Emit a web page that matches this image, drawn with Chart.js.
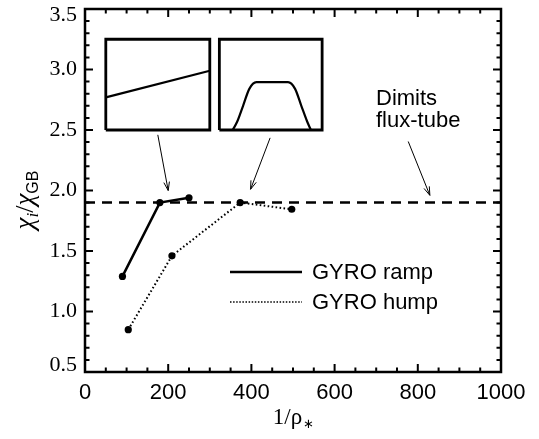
<!DOCTYPE html>
<html>
<head>
<meta charset="utf-8">
<script src="https://cdn.jsdelivr.net/npm/chart.js@4.4.1/dist/chart.umd.min.js"></script>
<style>
  html, body { margin: 0; padding: 0; background: #fff; }
  #wrap { width: 539px; height: 439px; }
</style>
</head>
<body>
<div id="wrap"><canvas id="chi"></canvas></div>
<script>
// values
const rampX = [90, 180, 250];
const rampY = [1.29, 1.90, 1.94];
const humpX = [104, 209, 373, 497];
const humpY = [0.85, 1.46, 1.90, 1.845];
const dimitsX = [0, 1000];
const dimitsY = [1.9, 1.9];

const xTicks = [0, 200, 400, 600, 800, 1000];
const yTicks = [0.5, 1.0, 1.5, 2.0, 2.5, 3.0, 3.5];
const yTickLabels = ['0.5', '1.0', '1.5', '2.0', '2.5', '3.0', '3.5'];

// the two little profile sketches (inset boxes), in plot units
const box1X = [50, 300, 300, 50, 50];
const box1Y = [2.5, 2.5, 3.25, 3.25, 2.5];
const box2X = [323, 570, 570, 323, 323];
const box2Y = [2.5, 2.5, 3.25, 3.25, 2.5];
const rampSketchX = [50, 300];
const rampSketchY = [2.77, 2.99];
const humpSketchX = [355, 366, 380, 395, 412, 488, 505, 520, 534, 543];
const humpSketchY = [2.5, 2.57, 2.70, 2.84, 2.895, 2.895, 2.84, 2.70, 2.57, 2.5];

// annotation arrows [from, to]
const arrow1X = [175, 200], arrow1Y = [2.46, 2.0];
const arrow2X = [445, 398], arrow2Y = [2.435, 2.01];
const arrow3X = [777, 829], arrow3Y = [2.405, 1.96];

const pts = (xs, ys) => xs.map((x, i) => ({ x: x, y: ys[i] }));
const SERIF = '"Liberation Serif", "Times New Roman", serif';
const SANS = '"Liberation Sans", Arial, sans-serif';

function plain(xs, ys, extra) {
    return Object.assign({
        data: pts(xs, ys),
        showLine: true,
        borderColor: '#000',
        borderWidth: 2.5,
        pointRadius: 0,
        fill: false
    }, extra || {});
}

const frame = {
    id: 'frame',
    afterDraw(chart) {
        const ctx = chart.ctx;
        const a = chart.chartArea;
        const xs = chart.scales.x, ys = chart.scales.y;
        ctx.save();
        ctx.strokeStyle = '#000';
        ctx.fillStyle = '#000';

        // ticks pointing inward on all four sides
        ctx.lineWidth = 2;
        ctx.beginPath();
        for (let v = 0; v <= 1000; v += 50) {
            const px = xs.getPixelForValue(v);
            const len = (v % 200 === 0) ? 8 : 4.5;
            ctx.moveTo(px, a.bottom); ctx.lineTo(px, a.bottom - len);
            ctx.moveTo(px, a.top); ctx.lineTo(px, a.top + len);
        }
        for (let k = 5; k <= 35; k++) {
            const py = ys.getPixelForValue(k / 10);
            const len = (k % 5 === 0) ? 8 : 4.5;
            ctx.moveTo(a.left, py); ctx.lineTo(a.left + len, py);
            ctx.moveTo(a.right, py); ctx.lineTo(a.right - len, py);
        }
        ctx.stroke();

        ctx.lineWidth = 2.5;
        ctx.strokeRect(a.left, a.top, a.right - a.left, a.bottom - a.top);

        // tick labels
        ctx.font = '22px ' + SANS;
        ctx.textAlign = 'center';
        ctx.textBaseline = 'middle';
        xTicks.forEach(v => ctx.fillText(String(v), xs.getPixelForValue(v), 393));

        ctx.font = '22px ' + SERIF;
        ctx.textAlign = 'right';
        yTicks.forEach((v, i) => {
            let py = ys.getPixelForValue(v);
            py = Math.min(Math.max(py, a.top + 6), a.bottom - 7);
            ctx.fillText(yTickLabels[i], 77, py);
        });

        // x title 1/ρ*
        ctx.textAlign = 'left';
        ctx.textBaseline = 'alphabetic';
        const main = '1/\u03c1';
        ctx.font = '23px ' + SERIF;
        const wMain = ctx.measureText(main).width;
        ctx.font = '13px ' + SERIF;
        const wStar = ctx.measureText('\u2217').width;
        let x0 = xs.getPixelForValue(500) - (wMain + wStar) / 2;
        ctx.font = '23px ' + SERIF;
        ctx.fillText(main, x0, 424);
        ctx.font = '13px ' + SERIF;
        ctx.fillText('\u2217', x0 + wMain + 1, 428);

        // y title χi/χGB, rotated
        const parts = [
            { t: '\u03c7', f: 'italic 27px ' + SERIF, dy: 0 },
            { t: 'i', f: 'italic 17px ' + SERIF, dy: 5 },
            { t: '/', f: '26px ' + SERIF, dy: 0 },
            { t: '\u03c7', f: 'italic 27px ' + SERIF, dy: 0 },
            { t: 'GB', f: '16px ' + SANS, dy: 5 }
        ];
        let total = 0;
        parts.forEach(p => { ctx.font = p.f; p.w = ctx.measureText(p.t).width; total += p.w; });
        ctx.translate(33, 200);
        ctx.rotate(-Math.PI / 2);
        let cx = -total / 2;
        parts.forEach(p => { ctx.font = p.f; ctx.fillText(p.t, cx, p.dy); cx += p.w; });
        ctx.restore();
    },
    afterDatasetsDraw(chart) {
        const ctx = chart.ctx;
        ctx.save();
        ctx.strokeStyle = '#000';
        ctx.lineWidth = 1;
        // open arrowheads at the end of each arrow dataset
        chart.data.datasets.forEach((ds, i) => {
            if (!ds.arrow) return;
            const el = chart.getDatasetMeta(i).data;
            const p0 = el[0], p1 = el[1];
            const ang = Math.atan2(p1.y - p0.y, p1.x - p0.x);
            const L = 9, h = 0.32;
            ctx.beginPath();
            ctx.moveTo(p1.x - L * Math.cos(ang - h), p1.y - L * Math.sin(ang - h));
            ctx.lineTo(p1.x, p1.y);
            ctx.lineTo(p1.x - L * Math.cos(ang + h), p1.y - L * Math.sin(ang + h));
            ctx.stroke();
        });

        // legend
        const ramp = chart.data.datasets[1];
        ctx.lineWidth = ramp.borderWidth;
        ctx.beginPath(); ctx.moveTo(230, 272); ctx.lineTo(302, 272); ctx.stroke();
        ctx.lineWidth = 1.5;
        ctx.setLineDash([1.5, 1.6]);
        ctx.beginPath(); ctx.moveTo(230, 302); ctx.lineTo(302, 302); ctx.stroke();
        ctx.setLineDash([]);
        ctx.fillStyle = '#000';
        ctx.font = '22px ' + SANS;
        ctx.textAlign = 'left';
        ctx.textBaseline = 'middle';
        ctx.fillText('GYRO ramp', 312, 273);
        ctx.fillText('GYRO hump', 312, 303);

        ctx.fillText('Dimits', 376, 99);
        ctx.fillText('flux-tube', 376, 121);
        ctx.restore();
    }
};

const ctx = document.getElementById('chi').getContext('2d');
new Chart(ctx, {
    type: 'scatter',
    data: {
        datasets: [
            plain(dimitsX, dimitsY, { borderDash: [10, 7] }),
            plain(rampX, rampY, { pointRadius: 3.6, pointBackgroundColor: '#000', pointBorderWidth: 0 }),
            plain(humpX, humpY, { borderWidth: 2, borderDash: [1.6, 2.4], pointRadius: 3.6, pointBackgroundColor: '#000', pointBorderWidth: 0 }),
            plain(box1X, box1Y, { borderWidth: 2.8 }),
            plain(box2X, box2Y, { borderWidth: 2.8 }),
            plain(rampSketchX, rampSketchY, { borderWidth: 2.2 }),
            plain(humpSketchX, humpSketchY, { borderWidth: 2.2, cubicInterpolationMode: 'monotone' }),
            plain(arrow1X, arrow1Y, { borderWidth: 1, arrow: true }),
            plain(arrow2X, arrow2Y, { borderWidth: 1, arrow: true }),
            plain(arrow3X, arrow3Y, { borderWidth: 1, arrow: true })
        ]
    },
    options: {
        responsive: true,
        maintainAspectRatio: false,
        animation: false,
        layout: { padding: { top: 9, right: 38, left: 0, bottom: 0 } },
        scales: {
            x: {
                type: 'linear', min: 0, max: 1000,
                grid: { display: false },
                border: { display: false },
                ticks: { display: false },
                afterFit: s => { s.height = 67; }
            },
            y: {
                type: 'linear', min: 0.5, max: 3.5,
                grid: { display: false },
                border: { display: false },
                ticks: { display: false },
                afterFit: s => { s.width = 85; }
            }
        },
        plugins: {
            legend: { display: false },
            tooltip: { enabled: false }
        }
    },
    plugins: [frame]
});
</script>
</body>
</html>
